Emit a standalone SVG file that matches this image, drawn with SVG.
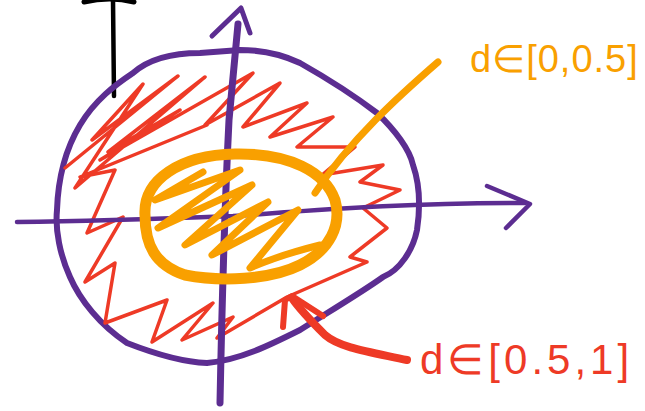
<svg xmlns="http://www.w3.org/2000/svg" width="645" height="411" viewBox="0 0 645 411">
<style>
.s{fill:none;stroke-linecap:round;stroke-linejoin:round}
.p{stroke:#5c2d91}
.r{stroke:#ee3a26}
.o{stroke:#f9a000}
.k{stroke:#000}
.t{font-family:"Liberation Sans",Arial,sans-serif}
</style>
<rect width="645" height="411" fill="#fff"/>
<g id="black-line">
<path class="s k" stroke-width="5" d="M84,2 Q110,-4 134,2"/>
<path class="s k" stroke-width="4.5" d="M113,0 L114,96"/>
</g>
<g id="outer-region">
<path class="s p" stroke-width="6" d="M133,73 C150,58 175,53 200,53 L240,50 C262,50 283,55 300,63 C330,80 360,100 377,113 C395,130 410,150 413,165 C420,185 420,210 417,230 C413,250 400,270 383,277 C365,290 340,305 300,330 C270,345 240,360 207,363 C180,362 150,352 127,343 C100,325 80,300 70,277 C60,255 55,230 57,210 C58,180 65,150 80,125 C95,100 115,85 133,73 Z"/>
</g>
<g id="red-fill">
<path class="s r" stroke-width="3.5" d="M65,168 L178,76 L92,140 L143,84 L75,188 L205,77 L108,152 L180,110 L100,160 L253,73 L205,125 L280,83 L243,127 L307,103 L270,137 L333,117 L297,147 L355,147 L322,175 L383,165 L360,182 L400,190 L363,208 L387,228 L350,257 L367,262 L287,297 L217,338 L233,317 L182,340 L213,303 L152,342 L167,300 L105,323 L115,263 L85,282 L123,217 L87,233 L115,170 L80,177 L207,125"/>
</g>
<g id="axes">
<path class="s p" stroke-width="4.5" d="M17,222 C100,221 180,218 233,216 C320,210 400,203 525,203"/>
<path class="s p" stroke-width="4.5" d="M487,186 L530,204 L506,228"/>
<path class="s p" stroke-width="7" d="M220,403 C222,300 225,200 229,120 L238,24"/>
<path class="s p" stroke-width="5" d="M212,36 L241,8 L250,33"/>
</g>
<g id="inner-region">
<path class="s o" stroke-width="11" d="M145,215 C143,180 180,155 235,154 C290,153 325,172 335,200 C342,225 330,250 300,265 C270,280 220,282 185,275 C155,265 145,245 145,215 Z"/>
<path class="s o" stroke-width="7" d="M203,172 L155,200 L240,170 L158,228 L252,185 L185,245 L268,202 L212,255 L298,210 L250,268 Q280,255 320,245"/>
</g>
<g id="connectors">
<path class="s o" stroke-width="7" d="M438,62 C400,95 350,140 315,193"/>
<path class="s r" stroke-width="8" d="M407,360 C370,352 340,348 325,335 C310,320 300,310 292,298"/>
<path class="s r" stroke-width="6" d="M283,327 L285,300 L292,296 L323,316"/>
</g>
<g id="label-inner">
<text class="t" x="470" y="72" font-size="38" fill="#f9a000" letter-spacing="1">d∈[0,0.5]</text>
</g>
<g id="label-outer">
<text class="t" x="420" y="374" font-size="42" fill="#ee3a26" letter-spacing="4">d∈[0.5,1]</text>
</g>
</svg>
